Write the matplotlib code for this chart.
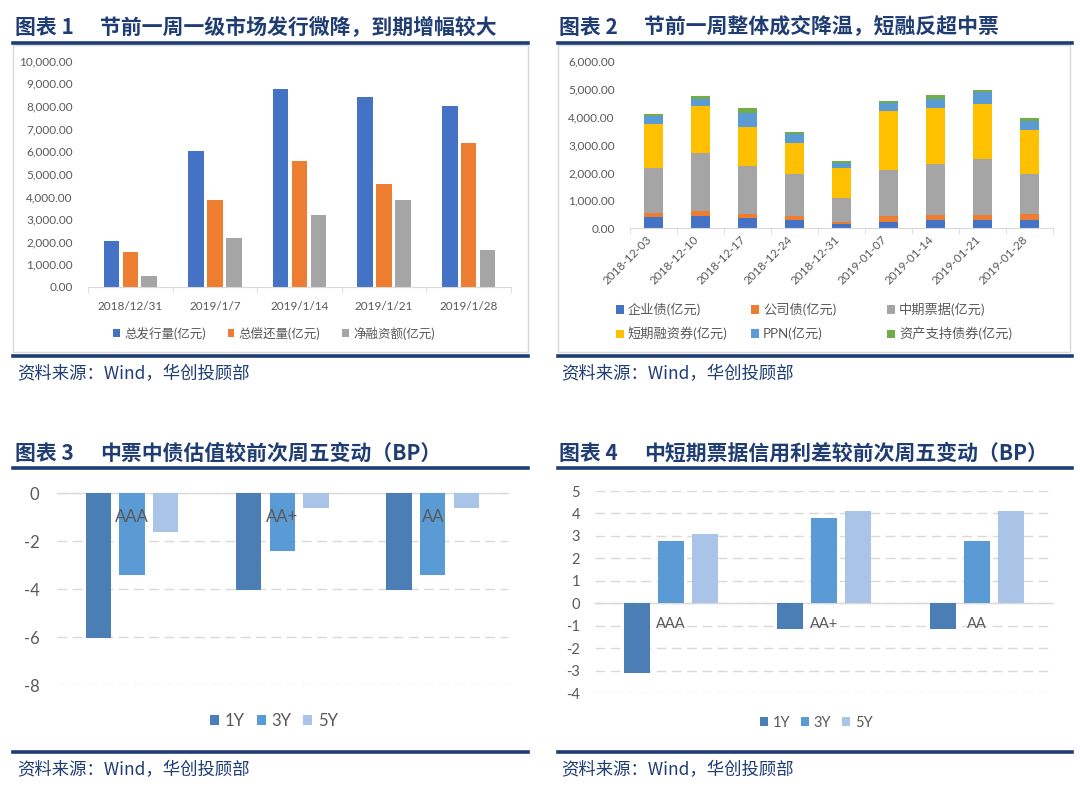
#Four small bond-market charts laid out like a research report page
import numpy as np
import matplotlib
matplotlib.use('Agg')
import matplotlib.pyplot as plt
from matplotlib.patches import Rectangle
from matplotlib.lines import Line2D

plt.rcParams['font.family'] = ['Lato', 'Noto Sans CJK SC', 'DejaVu Sans']
plt.rcParams['axes.unicode_minus'] = False

#---------Data------
weeks1 = ['2018/12/31', '2019/1/7', '2019/1/14', '2019/1/21', '2019/1/28']
issue = [2050, 6020, 8760, 8380, 8000]
repay = [1560, 3850, 5560, 4540, 6350]
net = [490, 2170, 3200, 3840, 1650]
names1 = ['总发行量(亿元)', '总偿还量(亿元)', '净融资额(亿元)']

weeks2 = ['2018-12-03', '2018-12-10', '2018-12-17', '2018-12-24', '2018-12-31',
          '2019-01-07', '2019-01-14', '2019-01-21', '2019-01-28']
qyz = [420, 440, 355, 285, 150, 230, 280, 280, 315]
gsz = [140, 170, 165, 140, 85, 200, 210, 210, 180]
zp = [1610, 2100, 1730, 1540, 860, 1660, 1810, 1980, 1450]
dr = [1570, 1690, 1370, 1090, 1080, 2130, 2010, 1990, 1570]
ppn = [300, 250, 510, 340, 150, 270, 340, 420, 340]
abs_ = [70, 90, 180, 60, 80, 60, 120, 70, 110]
names2 = ['企业债(亿元)', '公司债(亿元)', '中期票据(亿元)', '短期融资券(亿元)', 'PPN(亿元)', '资产支持债券(亿元)']

ratings = ['AAA', 'AA+', 'AA']
tenors = ['1Y', '3Y', '5Y']
mtn_1y = [-6.05, -4.05, -4.05]
mtn_3y = [-3.4, -2.4, -3.4]
mtn_5y = [-1.6, -0.6, -0.6]
spr_1y = [-3.1, -1.13, -1.13]
spr_3y = [2.78, 3.79, 2.78]
spr_5y = [3.1, 4.12, 4.12]

titles = [('图表 1', '节前一周一级市场发行微降，到期增幅较大'),
          ('图表 2', '节前一周整体成交降温，短融反超中票'),
          ('图表 3', '中票中债估值较前次周五变动（BP）'),
          ('图表 4', '中短期票据信用利差较前次周五变动（BP）')]
source = '资料来源：Wind，华创投顾部'

#---------Plotting begins here------
W, H = 1080, 786
navy = '#1F3D73'
grey_txt = '#595959'
light = '#D9D9D9'

def box(x0, y0, x1, y1):
    return [x0 / W, 1 - y1 / H, (x1 - x0) / W, (y1 - y0) / H]

fig = plt.figure(figsize=(W / 100, H / 100), dpi=100)
fig.patch.set_facecolor('white')

# titles, rules and source lines
cjk = ['Noto Sans CJK SC', 'DejaVu Sans']
for k, (lab, ttl) in enumerate(titles):
    col, row = k % 2, k // 2
    xl = 15 if col == 0 else 559
    x1 = 13 if col == 0 else 558
    x2 = 528 if col == 0 else 1072
    ty = 27 if row == 0 else 453
    ly = 43 if row == 0 else 468
    by = 356 if row == 0 else 752
    sy = 374 if row == 0 else 770
    fig.text(xl / W, 1 - ty / H, lab, family=cjk, fontsize=15, fontweight='bold',
             color=navy, va='center', ha='left')
    fig.text((xl + 85) / W, 1 - ty / H, ttl, family=cjk, fontsize=15, fontweight='bold',
             color=navy, va='center', ha='left')
    for yy in (ly, by):
        fig.add_artist(Line2D([x1 / W, x2 / W], [1 - yy / H] * 2, color=navy, lw=2.6,
                              transform=fig.transFigure))
    fig.text((xl + 2) / W, 1 - sy / H, source, family=cjk, fontsize=12.5, style='italic',
             color=navy, va='center', ha='left')

# frames round the two top charts
for x0, x1 in ((13, 528), (558, 1070)):
    fig.add_artist(Rectangle((x0 / W, 1 - 352 / H), (x1 - x0) / W, (352 - 45) / H,
                             transform=fig.transFigure, fill=False, ec=light, lw=1))

# ---- chart 1 ----
ax1 = fig.add_axes(box(88, 60.7, 511, 287))
x = np.arange(len(weeks1))
c1 = ['#4472C4', '#ED7D31', '#A5A5A5']
bars1 = []
for k, vals in enumerate([issue, repay, net]):
    bars1.append(ax1.bar(x + (k - 1) * 0.223, vals, 0.183, color=c1[k], label=names1[k]))
ax1.set_xlim(-0.5, len(weeks1) - 0.5)
ax1.set_ylim(0, 10000)
ax1.set_yticks(np.arange(0, 10001, 1000))
ax1.set_yticklabels(['{:,.2f}'.format(v) for v in np.arange(0, 10001, 1000)])
ax1.set_xticks(x)
ax1.set_xticklabels(weeks1)
ax1.set_xticks(np.arange(-0.5, len(weeks1), 1), minor=True)
ax1.tick_params(axis='x', which='major', length=0, pad=10, labelsize=8.5, labelcolor=grey_txt)
ax1.tick_params(axis='x', which='minor', length=4, color=light)
ax1.tick_params(axis='y', length=0, pad=11, labelsize=8.5, labelcolor=grey_txt)
for s in ['top', 'left', 'right']:
    ax1.spines[s].set_visible(False)
ax1.spines['bottom'].set_color(light)
fig.legend(handles=bars1, labels=names1, loc='center', bbox_to_anchor=(274 / W, 1 - 333 / H),
           ncol=3, frameon=False, fontsize=9, labelcolor=grey_txt, handlelength=0.55,
           handleheight=0.55, handletextpad=0.35, columnspacing=1.7)

# ---- chart 2 ----
ax2 = fig.add_axes(box(630, 61, 1053.3, 228.3))
x2 = np.arange(len(weeks2))
c2 = ['#4472C4', '#ED7D31', '#A5A5A5', '#FFC000', '#5B9BD5', '#70AD47']
bottom = np.zeros(len(weeks2))
bars2 = []
for k, vals in enumerate([qyz, gsz, zp, dr, ppn, abs_]):
    bars2.append(ax2.bar(x2, vals, 0.4, bottom=bottom, color=c2[k], label=names2[k]))
    bottom = bottom + np.array(vals)
ax2.set_xlim(-0.5, len(weeks2) - 0.5)
ax2.set_ylim(0, 6000)
ax2.set_yticks(np.arange(0, 6001, 1000))
ax2.set_yticklabels(['{:,.2f}'.format(v) for v in np.arange(0, 6001, 1000)])
ax2.set_xticks(x2)
ax2.set_xticklabels(weeks2, rotation=45, ha='right')
ax2.set_xticks(np.arange(-0.5, len(weeks2), 1), minor=True)
ax2.tick_params(axis='x', which='major', length=0, pad=4, labelsize=8.5, labelcolor=grey_txt)
ax2.tick_params(axis='x', which='minor', length=4, color=light)
ax2.tick_params(axis='y', length=0, pad=11, labelsize=8.5, labelcolor=grey_txt)
for s in ['top', 'left', 'right']:
    ax2.spines[s].set_visible(False)
ax2.spines['bottom'].set_color(light)
# Excel fills the legend row by row, so one small legend per column
for j, xl in enumerate((616, 751, 887)):
    fig.legend(handles=[bars2[j], bars2[j + 3]], labels=[names2[j], names2[j + 3]],
               loc='upper left', bbox_to_anchor=(xl / W, 1 - 303 / H), frameon=False,
               fontsize=9.5, labelcolor=grey_txt, handlelength=0.6, handleheight=0.6,
               handletextpad=0.3, borderpad=0, borderaxespad=0, labelspacing=0.8)

# ---- charts 3 and 4 ----
c3 = ['#4A7EB4', '#5B9BD5', '#A9C4E6']

def group_chart(rect, series, ylo, yhi, step, fs, lab_off, pad, leg_xy):
    ax = fig.add_axes(rect)
    xc = np.arange(len(ratings))
    bars = []
    for k, vals in enumerate(series):
        bars.append(ax.bar(xc + (k - 1) * 0.224, vals, 0.17, color=c3[k], label=tenors[k], zorder=3))
    ax.set_xlim(-0.5, len(ratings) - 0.5)
    ax.set_ylim(ylo, yhi)
    ax.set_yticks(np.arange(ylo, yhi + 0.1, step))
    ax.set_xticks([])
    ax.yaxis.grid(True, color=light, linestyle=(0, (7, 4)), lw=1)
    ax.set_axisbelow(True)
    ax.axhline(0, color=light, lw=1, zorder=2, clip_on=False)
    for s in ax.spines.values():
        s.set_visible(False)
    ax.tick_params(axis='y', length=0, pad=pad, labelsize=fs, labelcolor=grey_txt)
    for i, r in enumerate(ratings):
        ax.annotate(r, xy=(xc[i], 0), xytext=(0, -lab_off), textcoords='offset points',
                    ha='center', va='center', fontsize=fs, color=grey_txt, zorder=5)
    fig.legend(handles=bars, labels=tenors, loc='center', bbox_to_anchor=leg_xy, ncol=3,
               frameon=False, fontsize=fs, labelcolor=grey_txt, handlelength=0.55,
               handleheight=0.55, handletextpad=0.35, columnspacing=0.7)
    return ax

ax3 = group_chart(box(56.8, 493.3, 507.9, 685), [mtn_1y, mtn_3y, mtn_5y], -8, 0, 2, 12, 17, 12.5,
                  (274 / W, 1 - 721 / H))
ax4 = group_chart(box(594.5, 491, 1053.4, 693.3), [spr_1y, spr_3y, spr_5y], -4, 5, 1, 10.5, 14.5, 10.5,
                  (816 / W, 1 - 723 / H))

fig.savefig('out.png', dpi=100, facecolor='white')
